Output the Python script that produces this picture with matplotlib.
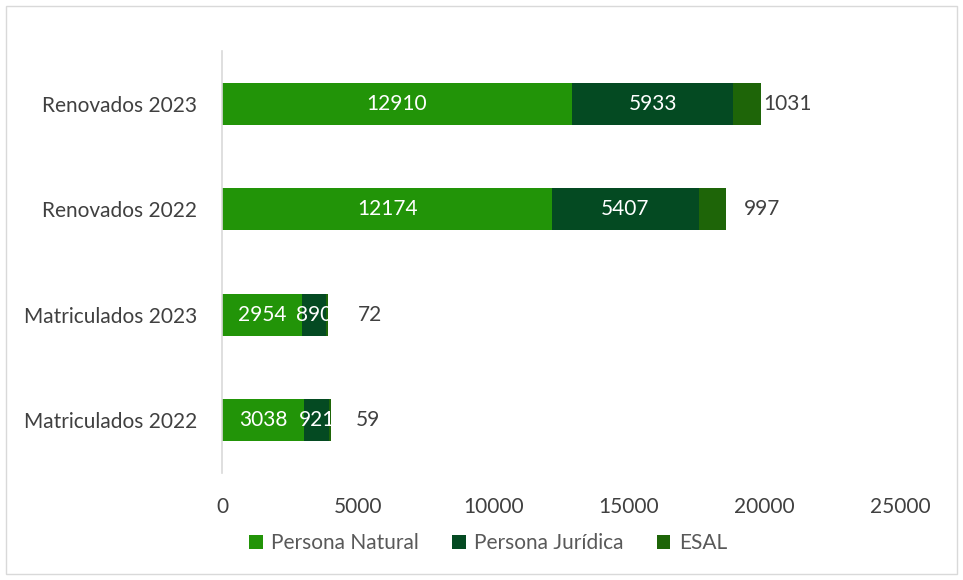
import matplotlib.pyplot as plt
from matplotlib.patches import Rectangle

categories = ['Matriculados 2022', 'Matriculados 2023', 'Renovados 2022', 'Renovados 2023']
natural = [3038, 2954, 12174, 12910]
juridica = [921, 890, 5407, 5933]
esal = [59, 72, 997, 1031]
series_names = ['Persona Natural', 'Persona Jurídica', 'ESAL']
colors = ['#229408', '#044A22', '#1E6508']
# label offsets for ESAL values (pixels right of bar end)
esal_offsets = [25, 30, 18, 2]

plt.rcParams['font.family'] = ['Lato', 'DejaVu Sans']
fs = 15

fig = plt.figure(figsize=(9.63, 5.80), dpi=100)
ax = fig.add_axes([222 / 963, 1 - 473 / 580, 678 / 963, 422 / 580])

y = list(range(len(categories)))
h = 0.4
b1 = ax.barh(y, natural, height=h, color=colors[0], label=series_names[0])
b2 = ax.barh(y, juridica, left=natural, height=h, color=colors[1], label=series_names[1])
left3 = [a + b for a, b in zip(natural, juridica)]
b3 = ax.barh(y, esal, left=left3, height=h, color=colors[2], label=series_names[2])

ax.bar_label(b1, labels=[str(v) for v in natural], label_type='center', color='white', fontsize=fs)
ax.bar_label(b2, labels=[str(v) for v in juridica], label_type='center', color='white', fontsize=fs)
for i, v in enumerate(esal):
    ax.annotate(str(v), (left3[i] + v, y[i]), xytext=(esal_offsets[i], 0),
                textcoords='offset pixels', ha='left', va='center',
                fontsize=fs, color='#404040')

ax.set_xlim(0, 25000)
ax.set_ylim(-0.5, 3.5)
ax.set_xticks([0, 5000, 10000, 15000, 20000, 25000])
ax.set_yticks(y)
ax.set_yticklabels(categories)
ax.tick_params(axis='both', length=0, labelsize=fs, labelcolor='#404040')
ax.tick_params(axis='y', pad=18)
ax.tick_params(axis='x', pad=17)
for s in ['top', 'right', 'bottom']:
    ax.spines[s].set_visible(False)
ax.spines['left'].set_color('#D9D9D9')
ax.spines['left'].set_linewidth(1.2)

leg = fig.legend(handles=[b1, b2, b3], labels=series_names, loc='center',
                 bbox_to_anchor=(488 / 963, 1 - 543 / 580), ncol=3, frameon=False,
                 fontsize=fs, handlelength=0.65, handleheight=0.65,
                 handletextpad=0.4, columnspacing=1.6)
for t in leg.get_texts():
    t.set_color('#595959')

fig.patches.append(Rectangle((6 / 963, 6 / 580), 951 / 963, 568 / 580,
                             transform=fig.transFigure, fill=False,
                             edgecolor='#D9D9D9', linewidth=1))

plt.savefig('out.png', dpi=100)
